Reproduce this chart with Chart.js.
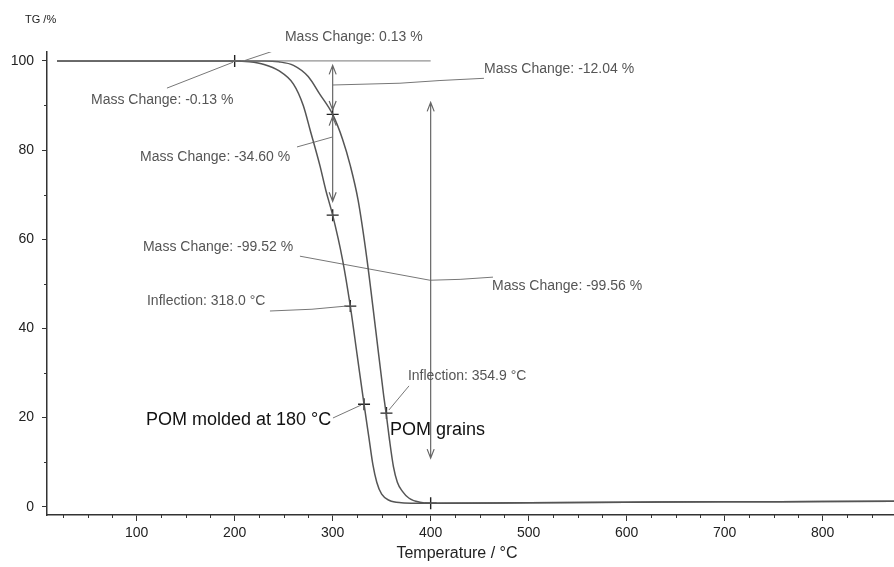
<!DOCTYPE html>
<html>
<head>
<meta charset="utf-8">
<script src="https://cdn.jsdelivr.net/npm/chart.js@4.4.1/dist/chart.umd.min.js"></script>
<style>
  html, body { margin: 0; padding: 0; background: #fff; }
</style>
</head>
<body>
<canvas id="tgChart" width="894" height="567"></canvas>
<script>
// TG curves (temperature in °C, mass in %)
const moldedTemp = [18.7, 100, 200, 215, 230, 245, 260, 270, 277, 287, 293, 300, 310, 318, 325, 332, 337, 341, 345, 350, 358, 370, 385, 400, 500, 600, 700, 800, 873];
const moldedTG   = [100, 100, 100, 99.8, 99.2, 97.8, 94.8, 90, 84.5, 76.5, 71, 65.4, 55.5, 45, 34, 23, 15.5, 9.5, 5.5, 2.8, 1.4, 0.9, 0.8, 0.8, 0.9, 1.0, 1.1, 1.15, 1.2];
const grainsTemp = [18.7, 100, 200, 230, 245, 260, 275, 287, 300, 310, 318, 326, 335, 344, 352, 355, 358, 362, 366, 371, 378, 389, 400, 500, 600, 700, 800, 873];
const grainsTG   = [100, 100, 100, 100, 99.8, 99, 96.5, 92.5, 88, 82.5, 76.5, 68.7, 55.5, 39.5, 25, 20.2, 15, 9, 5.5, 3.5, 1.9, 1.0, 0.8, 0.9, 1.0, 1.1, 1.15, 1.2];
const baselineTemp = [18.7, 400];
const baselineTG = [100, 100];

// evaluation markers (+)
const markTemp = [200, 300, 300, 318, 332, 354.9, 400];
const markTG   = [100, 88, 65.4, 45, 23, 21, 0.8];

// axis ticks
const xTicks = [100, 200, 300, 400, 500, 600, 700, 800];
const yTicks = [0, 20, 40, 60, 80, 100];
const xMinor = [25, 50, 75, 125, 150, 175, 225, 250, 275, 325, 350, 375, 425, 450, 475, 525, 550, 575, 625, 650, 675, 725, 750, 775, 825, 850];
const yMinor = [10, 30, 50, 70, 90];

// mass-change arrows: [temperature, from %, to %]
const arrows = [[300, 99, 89], [300, 87.5, 68.5], [400, 90.7, 10.9]];

// leader lines, [temperature, %] pairs
const leaders = [
  [[210.5, 100.1], [251.3, 103.1]],
  [[130.9, 93.9], [198.3, 99.7]],
  [[300.3, 94.6], [368.7, 95.0], [409.5, 95.6], [454.4, 96.1]],
  [[263.6, 80.7], [299.3, 82.9]],
  [[266.6, 56.2], [399.3, 50.8]],
  [[399.3, 50.8], [430, 51.0], [463.6, 51.5]],
  [[236, 43.9], [278.9, 44.3], [313.6, 45.0]],
  [[377.9, 27.1], [357.4, 21.7]],
  [[300.3, 19.9], [329, 22.8]]
];

// annotation texts: [text, temperature, %, size]
const notes = [
  ['Mass Change: 0.13 %', 251.3, 105.3, 14],
  ['Mass Change: -0.13 %', 53.4, 91.2, 14],
  ['Mass Change: -12.04 %', 454.4, 98.1, 14],
  ['Mass Change: -34.60 %', 103.4, 78.4, 14],
  ['Mass Change: -99.52 %', 106.4, 58.2, 14],
  ['Mass Change: -99.56 %', 462.6, 49.5, 14],
  ['Inflection: 318.0 °C', 110.5, 46.1, 14],
  ['Inflection: 354.9 °C', 376.8, 29.3, 14],
  ['POM molded at 180 °C', 109.5, 19.4, 18],
  ['POM grains', 358.5, 17.2, 18]
];

const FONT = "'Liberation Sans', Arial, sans-serif";
const pts = (xs, ys) => xs.map((v, i) => ({ x: v, y: ys[i] }));

const curve = (xs, ys) => ({
  data: pts(xs, ys),
  showLine: true,
  borderColor: '#555',
  borderWidth: 1.5,
  pointRadius: 0,
  cubicInterpolationMode: 'monotone'
});

const datasets = [
  { data: pts(baselineTemp, baselineTG), showLine: true, borderColor: '#777', borderWidth: 1, pointRadius: 0 },
  curve(moldedTemp, moldedTG),
  curve(grainsTemp, grainsTG)
];
leaders.forEach(l => datasets.push({
  data: l.map(p => ({ x: p[0], y: p[1] })),
  showLine: true, borderColor: '#777', borderWidth: 1, pointRadius: 0
}));
datasets.push({
  data: pts(markTemp, markTG),
  showLine: false, pointStyle: 'cross', pointRadius: 6,
  borderColor: '#222', borderWidth: 1.4
});

const annotate = {
  id: 'annotate',
  afterDraw(chart) {
    const { ctx, scales: { x, y } } = chart;
    const a = chart.chartArea;
    ctx.save();

    // minor ticks
    ctx.strokeStyle = '#333';
    ctx.lineWidth = 1;
    ctx.beginPath();
    xMinor.forEach(v => {
      const px = Math.round(x.getPixelForValue(v)) + 0.5;
      ctx.moveTo(px, a.bottom); ctx.lineTo(px, a.bottom + 3);
    });
    yMinor.forEach(v => {
      const py = Math.round(y.getPixelForValue(v)) + 0.5;
      ctx.moveTo(a.left, py); ctx.lineTo(a.left - 3, py);
    });
    ctx.stroke();

    // double arrows
    ctx.strokeStyle = '#666';
    ctx.lineWidth = 1.2;
    arrows.forEach(([t, v1, v2]) => {
      const px = x.getPixelForValue(t);
      const y1 = y.getPixelForValue(v1), y2 = y.getPixelForValue(v2);
      const d = y2 > y1 ? 1 : -1;
      ctx.beginPath();
      ctx.moveTo(px, y1); ctx.lineTo(px, y2);
      ctx.moveTo(px - 3.5, y1 + d * 9); ctx.lineTo(px, y1); ctx.lineTo(px + 3.5, y1 + d * 9);
      ctx.moveTo(px - 3.5, y2 - d * 9); ctx.lineTo(px, y2); ctx.lineTo(px + 3.5, y2 - d * 9);
      ctx.stroke();
    });

    // texts
    ctx.textBaseline = 'middle';
    ctx.textAlign = 'left';
    notes.forEach(([txt, t, v, size]) => {
      ctx.font = size + 'px ' + FONT;
      ctx.fillStyle = size > 14 ? '#111' : '#555';
      ctx.fillText(txt, x.getPixelForValue(t), y.getPixelForValue(v));
    });

    // axis titles
    ctx.fillStyle = '#222';
    ctx.font = '11px ' + FONT;
    ctx.fillText('TG /%', 25, 20);
    ctx.font = '16px ' + FONT;
    ctx.textAlign = 'center';
    ctx.fillText('Temperature / °C', 457, 554);
    ctx.restore();
  }
};

new Chart(document.getElementById('tgChart'), {
  type: 'scatter',
  data: { datasets },
  plugins: [annotate],
  options: {
    responsive: false,
    animation: false,
    layout: { autoPadding: false, padding: { top: 52, right: 0, left: 0, bottom: 0 } },
    plugins: { legend: { display: false }, tooltip: { enabled: false } },
    scales: {
      x: {
        type: 'linear',
        min: 8.5,
        max: 872.8,
        afterBuildTicks: sc => { sc.ticks = xTicks.map(v => ({ value: v })); },
        afterFit: sc => { sc.height = 52; sc.paddingLeft = 0; sc.paddingRight = 0; },
        ticks: { font: { family: FONT, size: 14 }, color: '#222', padding: 4, maxRotation: 0, autoSkip: false },
        grid: { drawOnChartArea: false, tickLength: 6, tickColor: '#333', tickWidth: 1 },
        border: { color: '#333', width: 1.5 }
      },
      y: {
        type: 'linear',
        min: -1.86,
        max: 102,
        afterBuildTicks: sc => { sc.ticks = yTicks.map(v => ({ value: v })); },
        afterFit: sc => { sc.width = 47; sc.paddingTop = 0; sc.paddingBottom = 0; },
        ticks: { font: { family: FONT, size: 14 }, color: '#222', padding: 8 },
        grid: { drawOnChartArea: false, tickLength: 5, tickColor: '#333', tickWidth: 1 },
        border: { color: '#333', width: 1.5 }
      }
    }
  }
});
</script>
</body>
</html>
